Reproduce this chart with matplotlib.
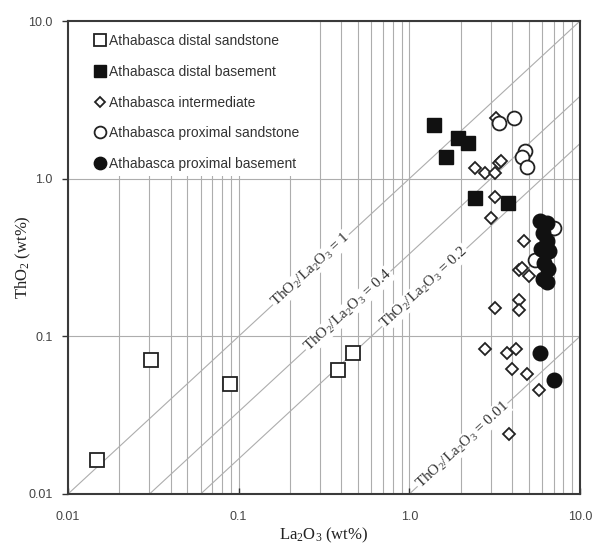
import numpy as np
import matplotlib
matplotlib.use("Agg")
import matplotlib.pyplot as plt
from matplotlib.patches import Rectangle
from matplotlib.ticker import FixedLocator, FixedFormatter, LogLocator, NullFormatter

plt.rcParams['font.family'] = ['Liberation Sans', 'DejaVu Sans']
plt.rcParams['mathtext.fontset'] = 'custom'
plt.rcParams['mathtext.rm'] = 'Liberation Serif'
plt.rcParams['mathtext.it'] = 'Liberation Serif:italic'

# La2O3 (x) vs ThO2 (y), wt%
distal_sand_x = [0.0148, 0.0308, 0.0886, 0.382, 0.469]
distal_sand_y = [0.0165, 0.0703, 0.0502, 0.0616, 0.078]

distal_base_x = [1.40, 1.92, 2.22, 1.65, 2.41, 3.77]
distal_base_y = [2.18, 1.82, 1.69, 1.38, 0.757, 0.703]

inter_x = [3.21, 2.44, 2.76, 3.16, 3.34, 3.43, 3.16, 2.99, 4.69, 4.38, 4.56, 5.01,
           4.38, 4.38, 3.16, 2.76, 3.72, 4.21, 3.98, 4.88, 5.74, 3.82]
inter_y = [2.41, 1.17, 1.09, 1.09, 1.25, 1.30, 0.768, 0.565, 0.403, 0.263, 0.271, 0.241,
           0.169, 0.147, 0.151, 0.0826, 0.078, 0.0826, 0.0625, 0.0573, 0.0459, 0.0241]

prox_sand_x = [3.34, 4.09, 4.75, 4.56, 4.88, 7.03, 5.43]
prox_sand_y = [2.24, 2.41, 1.49, 1.38, 1.19, 0.488, 0.305]

prox_base_x = [5.82, 6.40, 6.05, 6.40, 5.90, 6.57, 6.14, 6.48, 6.05, 6.40, 5.82, 7.03]
prox_base_y = [0.540, 0.525, 0.453, 0.403, 0.358, 0.348, 0.292, 0.267, 0.231, 0.221, 0.078, 0.0532]

# reference ratio lines ThO2/La2O3 and their labels
ratios = [1.0, 0.333, 0.167, 0.01]
ratio_labels = ['1', '0.4', '0.2', '0.01']
label_x = [0.265, 0.438, 1.225, 2.05]

ticks = [0.01, 0.1, 1.0, 10.0]
tick_labels = ['0.01', '0.1', '1.0', '10.0']

fig = plt.figure(figsize=(5.98, 5.46), dpi=100)
ax = fig.add_axes([68 / 598, 1 - 494 / 546, 512 / 598, 473 / 546])
ax.set_xscale('log')
ax.set_yscale('log')
ax.set_xlim(0.01, 10)
ax.set_ylim(0.01, 10)

grid_c = '#adadad'
ax.xaxis.set_minor_locator(LogLocator(base=10, subs=np.arange(2, 10)))
ax.xaxis.set_minor_formatter(NullFormatter())
ax.yaxis.set_minor_formatter(NullFormatter())
ax.grid(which='both', axis='x', color=grid_c, lw=0.8)
ax.grid(which='major', axis='y', color=grid_c, lw=0.8)
ax.set_axisbelow(True)

# white area behind legend
ax.add_patch(Rectangle((0, 0.672), 0.475, 0.33, transform=ax.transAxes,
                       facecolor='white', edgecolor='none', zorder=1.5))

xx = np.array([0.001, 100])
for r in ratios:
    ax.plot(xx, r * xx, color=grid_c, lw=0.8, zorder=2)

for r, lab, lx in zip(ratios, ratio_labels, label_x):
    p1 = ax.transData.transform((lx, r * lx))
    p2 = ax.transData.transform((lx * 10, r * lx * 10))
    ang = np.degrees(np.arctan2(p2[1] - p1[1], p2[0] - p1[0]))
    ax.text(lx, r * lx, r'ThO$_2$/La$_2$O$_3$ = ' + lab, rotation=ang,
            rotation_mode='anchor', ha='center', va='center', fontsize=11,
            family='Liberation Serif', color='#333333', zorder=3,
            bbox=dict(facecolor='white', edgecolor='none', pad=0.5))

ec = '#222222'
h1, = ax.plot(distal_sand_x, distal_sand_y, ls='none', marker='s', ms=9.5, mfc='white',
              mec=ec, mew=1.3, zorder=4, label='Athabasca distal sandstone')
h2, = ax.plot(distal_base_x, distal_base_y, ls='none', marker='s', ms=10, mfc='#111111',
              mec='#111111', mew=1, zorder=4, label='Athabasca distal basement')
h3, = ax.plot(inter_x, inter_y, ls='none', marker='D', ms=6.4, mfc='white',
              mec=ec, mew=1.3, zorder=4, label='Athabasca intermediate')
h4, = ax.plot(prox_sand_x, prox_sand_y, ls='none', marker='o', ms=10, mfc='white',
              mec=ec, mew=1.3, zorder=4, label='Athabasca proximal sandstone')
h5, = ax.plot(prox_base_x, prox_base_y, ls='none', marker='o', ms=10.5, mfc='#111111',
              mec='#111111', mew=1, zorder=5, label='Athabasca proximal basement')

leg = ax.legend(handles=[h1, h2, h3, h4, h5], loc='upper left',
                bbox_to_anchor=(0.052, 0.972), frameon=False, borderpad=0,
                borderaxespad=0, handlelength=0.8, handletextpad=0.25,
                labelspacing=1.2, fontsize=10, numpoints=1, markerscale=0.85)
leg.set_zorder(6)
for t in leg.get_texts():
    t.set_color('#333333')

ax.xaxis.set_major_locator(FixedLocator(ticks))
ax.xaxis.set_major_formatter(FixedFormatter(tick_labels))
ax.yaxis.set_major_locator(FixedLocator(ticks))
ax.yaxis.set_major_formatter(FixedFormatter(tick_labels))
ax.tick_params(axis='x', which='major', direction='in', length=4, width=1,
               labelsize=9, labelcolor='#444444', pad=12, color='#333333')
ax.tick_params(axis='y', which='major', direction='out', length=4, width=1,
               labelsize=9, labelcolor='#444444', pad=7, color='#333333')
ax.tick_params(which='minor', length=0)

for s in ax.spines.values():
    s.set_color('#3a3a3a')
    s.set_linewidth(1.5)
    s.set_zorder(7)

ax.set_xlabel(r'La$_2$O$_3$ (wt%)', family='Liberation Serif', fontsize=12,
              color='#222222', labelpad=2)
ax.set_ylabel(r'ThO$_2$ (wt%)', family='Liberation Serif', fontsize=12,
              color='#222222', labelpad=-3)

fig.savefig('out.png', dpi=100)
